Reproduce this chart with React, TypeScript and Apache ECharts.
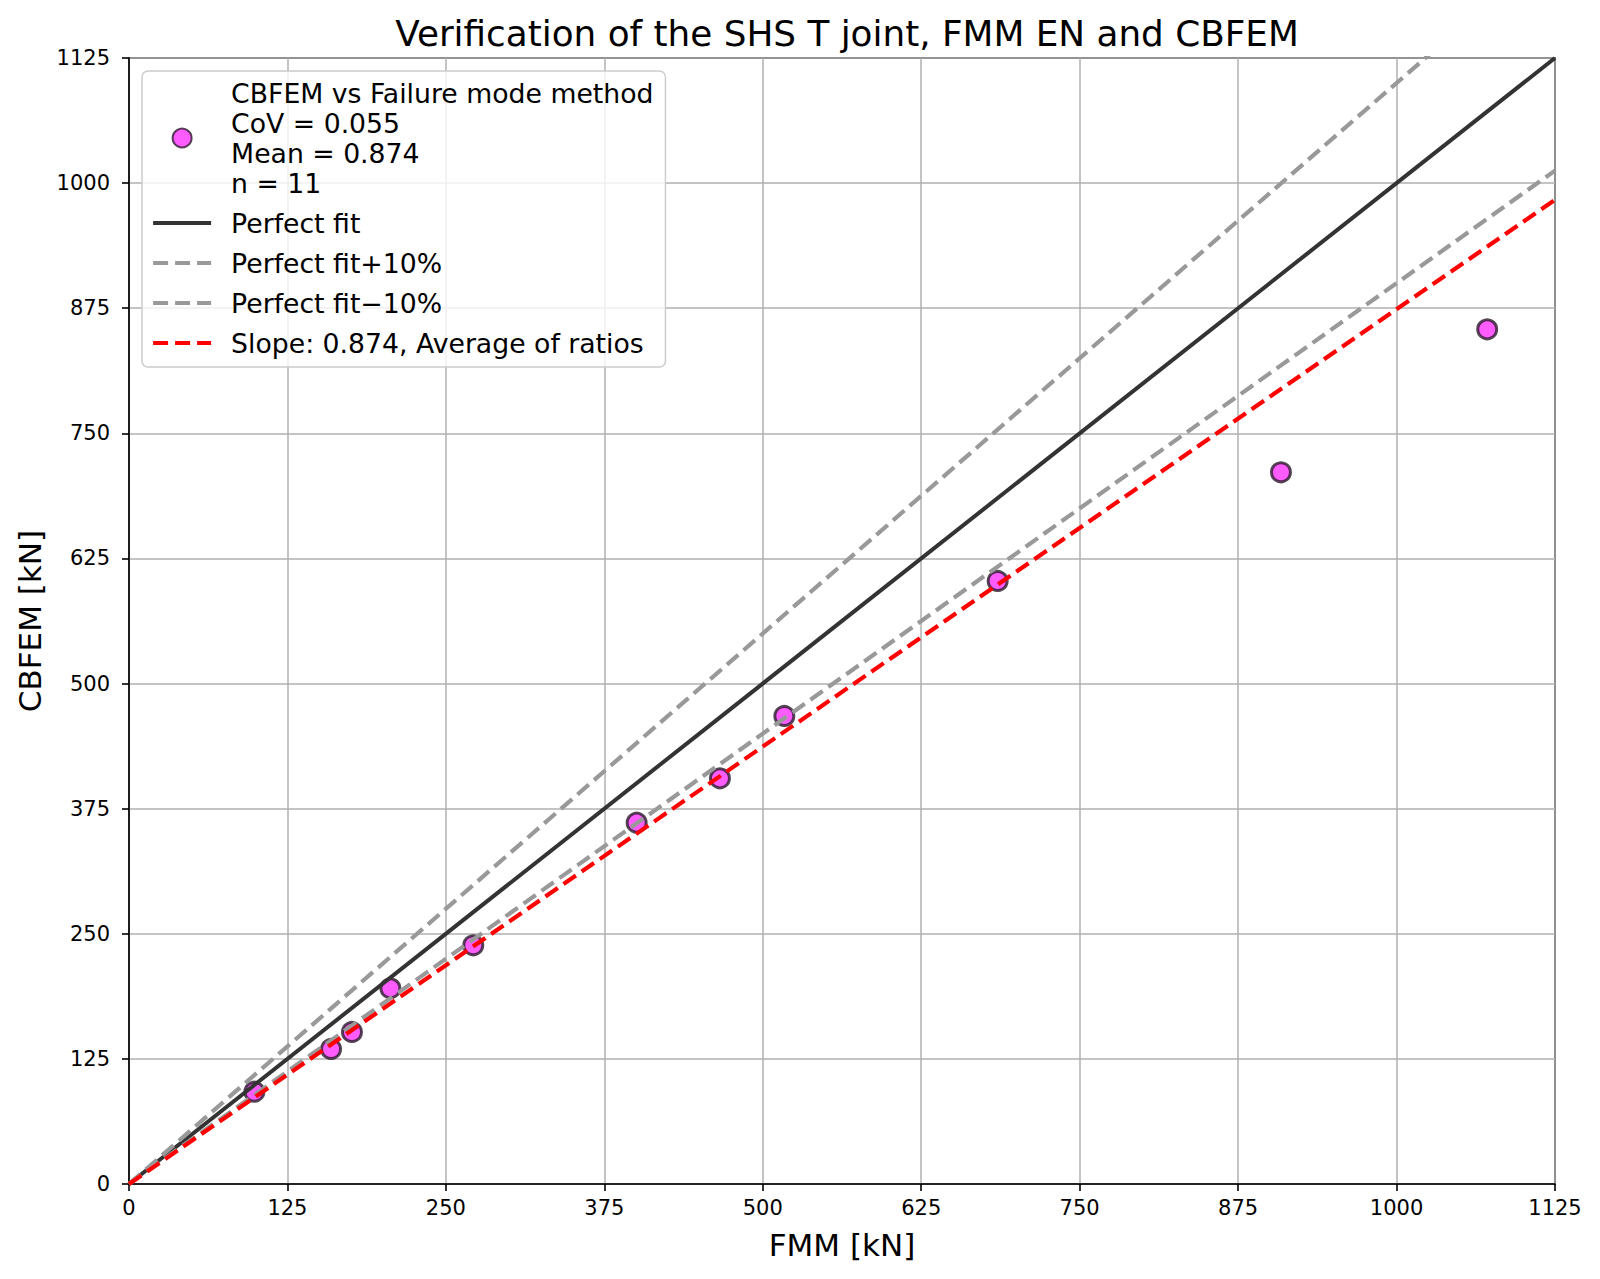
import React, { useEffect, useRef } from "react";
import * as echarts from "echarts";

const fmmValues = [98.9, 159.4, 175.9, 206.2, 271.6, 400.5, 466.2, 517.0, 685.3, 908.8, 1071.5];
const cbfemValues = [92.2, 134.9, 151.9, 195.5, 238.5, 361.0, 405.3, 467.6, 602.5, 711.1, 853.9];
const axisMin = 0;
const axisMax = 1125;
const tickStep = 125;
const lineX = [0, 1125];
const slopePerfect = 1.0;
const slopePlus = 1.1;
const slopeMinus = 0.9;
const slopeMean = 0.874;

const scatterName = "CBFEM vs Failure mode method\nCoV = 0.055\nMean = 0.874\nn = 11";
const perfectName = "Perfect fit";
const plusName = "Perfect fit+10%";
const minusName = "Perfect fit\u221210%";
const meanName = "Slope: 0.874, Average of ratios";

const FONT = "DejaVu Sans";

const lineData = (k: number) => lineX.map((x) => [x, k * x]);

export default function App() {
  const ref = useRef<HTMLDivElement>(null);
  useEffect(() => {
    if (!ref.current) return;
    const chart = echarts.init(ref.current, undefined, { renderer: "svg" });
    const axisCommon = {
      type: "value" as const,
      min: axisMin,
      max: axisMax,
      interval: tickStep,
      nameLocation: "middle" as const,
      nameTextStyle: { fontFamily: FONT, fontSize: 31, color: "#000" },
      axisLine: { show: true, onZero: false, lineStyle: { color: "#000", width: 1.6 } },
      axisTick: { show: true, inside: false, length: 7, lineStyle: { color: "#000", width: 1.6 } },
      splitLine: { show: true, lineStyle: { color: "#b0b0b0", width: 1.5 } },
    };
    const dashed = [15, 7];
    const hiddenSymbol = { color: "rgba(0,0,0,0)", borderWidth: 0, opacity: 0 };
    chart.setOption({
      animation: false,
      backgroundColor: "#fff",
      title: {
        text: "Verification of the SHS T joint, FMM EN and CBFEM",
        left: 842,
        textAlign: "center",
        top: 10,
        textStyle: { fontFamily: FONT, fontSize: 35.8, fontWeight: "normal", color: "#000" },
      },
      grid: {
        left: 129,
        right: 45,
        top: 58,
        bottom: 95,
        show: true,
        borderColor: "#000",
        borderWidth: 1.6,
        containLabel: false,
      },
      xAxis: {
        ...axisCommon,
        name: "FMM [kN]",
        nameGap: 45,
        axisLabel: { fontFamily: FONT, fontSize: 21, color: "#000", margin: 13, formatter: (v: number) => String(v) },
      },
      yAxis: {
        ...axisCommon,
        name: "CBFEM [kN]",
        nameGap: 78,
        axisLabel: { fontFamily: FONT, fontSize: 21, color: "#000", margin: 19, formatter: (v: number) => String(v) },
      },
      legend: {
        orient: "vertical",
        left: 142,
        top: 71,
        backgroundColor: "rgba(255,255,255,0.8)",
        borderColor: "#cccccc",
        borderWidth: 1.5,
        borderRadius: 6,
        padding: [7, 12, 9, 9],
        itemWidth: 58,
        itemHeight: 19,
        itemGap: 10,
        textStyle: {
          fontFamily: FONT,
          fontSize: 26.7,
          lineHeight: 30,
          color: "#000",
          padding: [0, 0, 0, 15],
        },
        data: [
          { name: scatterName },
          { name: perfectName, itemStyle: hiddenSymbol, lineStyle: { color: "#333333", width: 4.2, type: "solid" } },
          { name: plusName, itemStyle: hiddenSymbol, lineStyle: { color: "#999999", width: 4.2, type: dashed } },
          { name: minusName, itemStyle: hiddenSymbol, lineStyle: { color: "#999999", width: 4.2, type: dashed } },
          { name: meanName, itemStyle: hiddenSymbol, lineStyle: { color: "#ff0000", width: 4.2, type: dashed } },
        ],
      },
      series: [
        {
          name: scatterName,
          type: "scatter",
          data: fmmValues.map((x, i) => [x, cbfemValues[i]]),
          symbol: "circle",
          symbolSize: 19,
          itemStyle: { color: "#ff33ff", borderColor: "#2a1a2a", borderWidth: 3 },
          z: 2,
        },
        {
          name: perfectName,
          type: "line",
          data: lineData(slopePerfect),
          symbol: "none",
          showSymbol: false,
          lineStyle: { color: "#333333", width: 4, type: "solid" },
          itemStyle: { color: "#333333" },
          z: 3,
        },
        {
          name: plusName,
          type: "line",
          data: lineData(slopePlus),
          symbol: "none",
          showSymbol: false,
          clip: true,
          lineStyle: { color: "#999999", width: 4.2, type: dashed },
          itemStyle: { color: "#999999" },
          z: 3,
        },
        {
          name: minusName,
          type: "line",
          data: lineData(slopeMinus),
          symbol: "none",
          showSymbol: false,
          lineStyle: { color: "#999999", width: 4.2, type: dashed },
          itemStyle: { color: "#999999" },
          z: 3,
        },
        {
          name: meanName,
          type: "line",
          data: lineData(slopeMean),
          symbol: "none",
          showSymbol: false,
          lineStyle: { color: "#ff0000", width: 4.2, type: dashed },
          itemStyle: { color: "#ff0000" },
          z: 3,
        },
      ],
    });
    return () => chart.dispose();
  }, []);
  return (
    <div
      ref={ref}
      style={{ position: "absolute", left: 0, top: 0, width: 1600, height: 1279, background: "#fff" }}
    />
  );
}
